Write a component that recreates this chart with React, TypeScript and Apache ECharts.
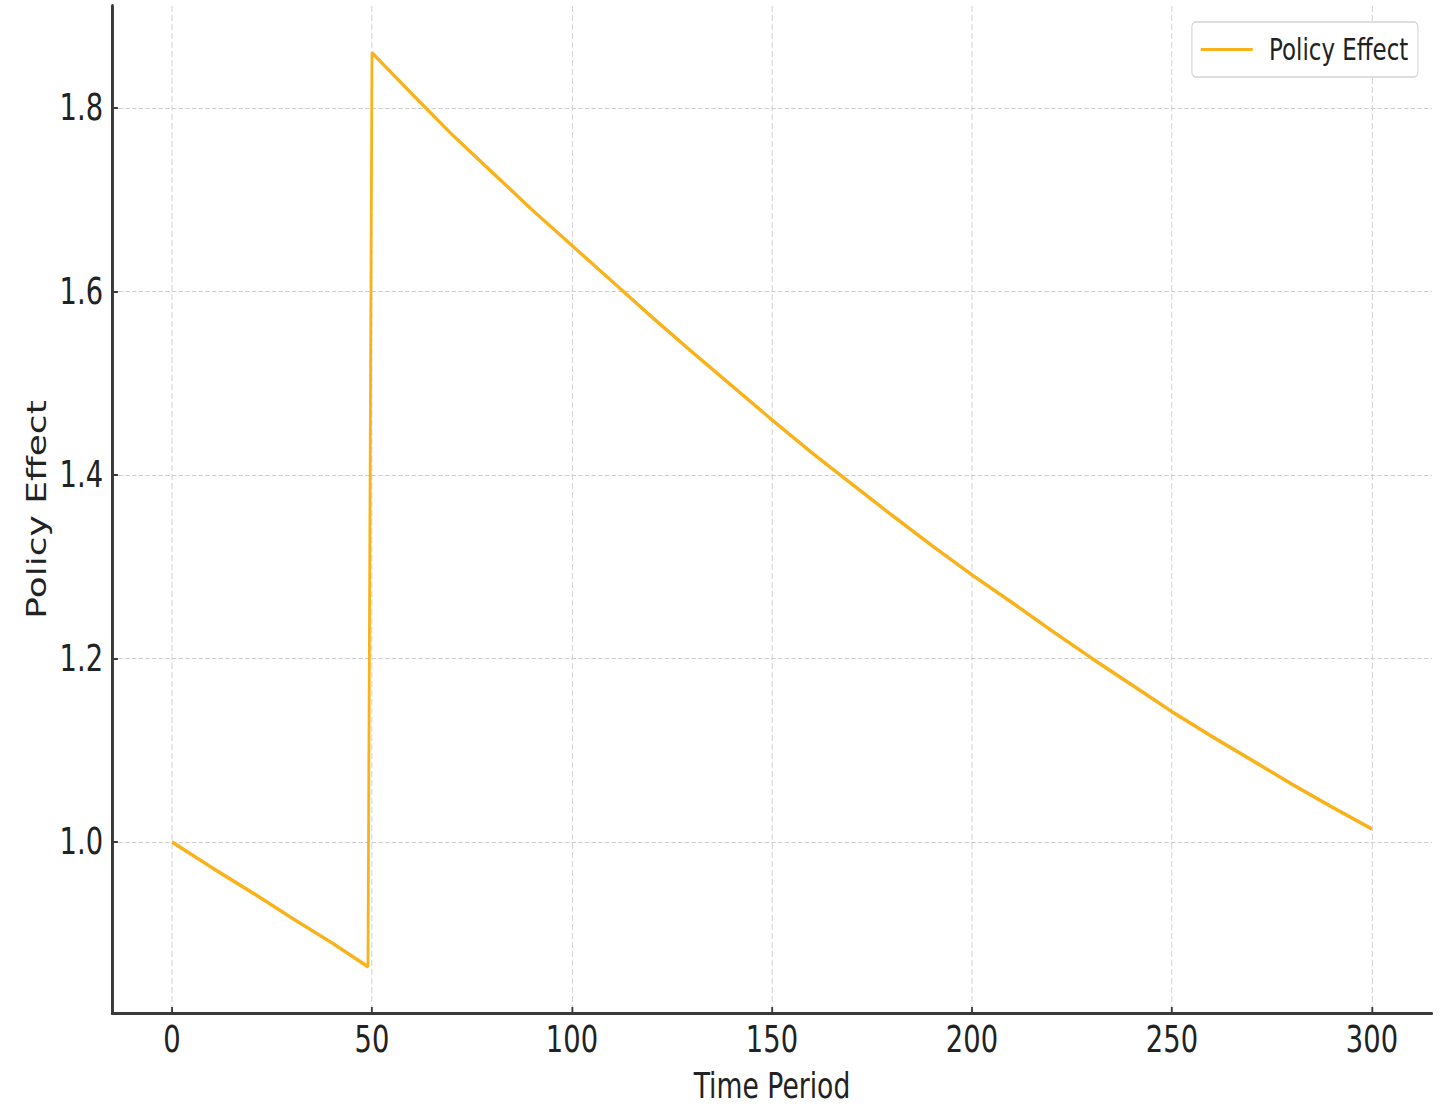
import React, { useEffect, useRef } from "react";
import * as echarts from "echarts";

const timePeriods = [0, 10, 20, 30, 40, 49, 50, 60, 70, 80, 90, 100, 110, 120, 130, 140, 150, 160, 170, 180, 190, 200, 210, 220, 230, 240, 250, 260, 270, 280, 290, 300];
const policyEffect = [1.0, 0.972, 0.945, 0.917, 0.89, 0.864, 1.86, 1.815, 1.771, 1.73, 1.689, 1.65, 1.611, 1.572, 1.534, 1.497, 1.46, 1.424, 1.39, 1.356, 1.323, 1.291, 1.261, 1.23, 1.2, 1.171, 1.142, 1.115, 1.089, 1.063, 1.038, 1.014];
const seriesName = "Policy Effect";
const xAxisTitle = "Time Period";
const yAxisTitle = "Policy Effect";

// The reference is horizontally squeezed; render wider and squeeze with CSS.
const SQUEEZE = 0.74;
const W = 1446;
const H = 1106;

const font = "'DejaVu Sans', sans-serif";

export default function App() {
  const ref = useRef<HTMLDivElement>(null);
  useEffect(() => {
    if (!ref.current) return;
    const chart = echarts.init(ref.current, null, { renderer: "svg" });
    const data = timePeriods.map((t, i) => [t, policyEffect[i]]);
    const gridLine = { show: true, showMinLine: false, showMaxLine: false, lineStyle: { color: "#cdcdcd", width: 1.2, type: [6, 3] as any } };
    chart.setOption({
      animation: false,
      backgroundColor: "#ffffff",
      grid: { left: 112 / SQUEEZE, right: 14 / SQUEEZE, top: 6, bottom: 93, containLabel: false, outerBoundsMode: "none" },
      legend: {
        right: 28 / SQUEEZE,
        top: 22,
        data: [{ name: seriesName, icon: "rect" }],
        itemWidth: 52 / SQUEEZE,
        itemHeight: 3,
        padding: [10, 13, 10, 12],
        borderColor: "#d4d4d4",
        borderWidth: 1.5,
        borderRadius: 5,
        backgroundColor: "#ffffff",
        textStyle: { fontFamily: font, fontSize: 31, color: "#222", lineHeight: 35, padding: [0, 0, 0, 17] },
      },
      xAxis: {
        type: "value",
        min: -15,
        max: 315,
        splitNumber: 6,
        name: xAxisTitle,
        nameLocation: "middle",
        nameGap: 55,
        nameTextStyle: { fontFamily: font, fontSize: 36, lineHeight: 34, color: "#222" },
        axisLine: { show: true, onZero: false, lineStyle: { color: "#3a3a3a", width: 3 } },
        axisTick: { show: true, inside: true, length: 6, lineStyle: { color: "#3a3a3a", width: 2.5 } },
        axisLabel: { showMinLabel: false, showMaxLabel: false, margin: 8, fontFamily: font, fontSize: 37, color: "#222" },
        splitLine: gridLine,
      },
      yAxis: {
        type: "value",
        min: 0.8136,
        max: 1.911,
        splitNumber: 5,
        name: yAxisTitle,
        nameLocation: "middle",
        nameGap: 84,
        nameTextStyle: { fontFamily: font, fontSize: 36, lineHeight: 36, color: "#222" },
        axisLine: { show: true, onZero: false, lineStyle: { color: "#3a3a3a", width: 4 } },
        axisTick: { show: true, inside: true, length: 8, lineStyle: { color: "#3a3a3a", width: 2 } },
        axisLabel: {
          showMinLabel: false,
          showMaxLabel: false,
          margin: 12,
          fontFamily: font,
          fontSize: 37,
          color: "#222",
          formatter: (v: number) => v.toFixed(1),
        },
        splitLine: gridLine,
      },
      series: [
        {
          name: seriesName,
          type: "line",
          data,
          showSymbol: false,
          symbol: "none",
          lineStyle: { color: "#f9b21a", width: 3.8 },
          itemStyle: { color: "#f9b21a" },
        },
      ],
    });
    return () => chart.dispose();
  }, []);
  return (
    <div
      ref={ref}
      style={{
        position: "fixed",
        left: 0,
        top: 0,
        width: W / SQUEEZE,
        height: H,
        transform: `scaleX(${SQUEEZE})`,
        transformOrigin: "0 0",
      }}
    />
  );
}
